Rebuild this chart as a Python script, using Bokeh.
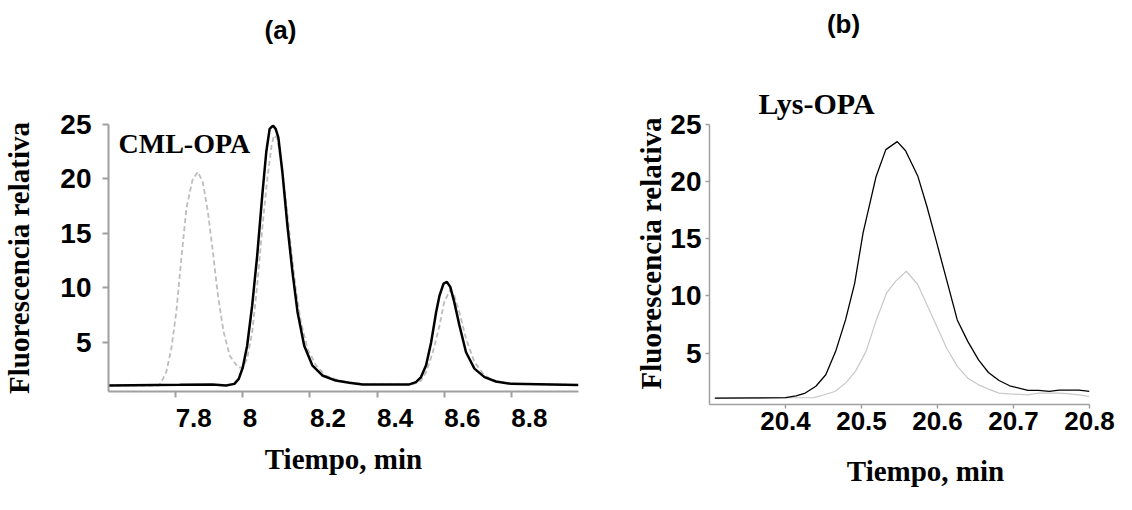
import math
from bokeh.plotting import figure
from bokeh.layouts import row
from bokeh.models import Range1d, FixedTicker, Label
from bokeh.embed import file_html
from bokeh.resources import INLINE

# ---------------- data: panel (a) CML-OPA ----------------
a_black_x = [7.6, 7.812, 7.91, 7.95, 7.975, 7.988, 8.0, 8.013, 8.028, 8.043, 8.058, 8.07,
             8.08, 8.09, 8.098, 8.106, 8.118, 8.133, 8.148, 8.163, 8.183, 8.207, 8.237,
             8.277, 8.317, 8.357, 8.496, 8.516, 8.531, 8.546, 8.561, 8.576, 8.586, 8.598,
             8.608, 8.618, 8.63, 8.645, 8.665, 8.69, 8.72, 8.754, 8.8, 9.0]
a_black_y = [1.05, 1.11, 1.15, 1.05, 1.2, 1.66, 2.7, 4.7, 8.4, 13.0, 18.5, 22.5,
             24.6, 24.9, 24.6, 23.8, 20.6, 15.7, 11.45, 7.8, 4.7, 2.9, 1.97,
             1.5, 1.3, 1.15, 1.15, 1.36, 1.82, 2.9, 5.0, 7.8, 9.3, 10.4,
             10.55, 10.1, 8.7, 6.6, 4.1, 2.6, 1.82, 1.42, 1.2, 1.1]

a_gray_x = [7.6, 7.75, 7.757, 7.772, 7.787, 7.802, 7.817, 7.832, 7.85, 7.866, 7.881, 7.896,
            7.911, 7.926, 7.943, 7.961, 7.986, 8.0, 8.013, 8.028, 8.043, 8.058, 8.073,
            8.086, 8.093, 8.103, 8.116, 8.128, 8.143, 8.158, 8.173, 8.193, 8.218, 8.247,
            8.287, 8.327, 8.366, 8.505, 8.531, 8.546, 8.566, 8.586, 8.6, 8.617, 8.63,
            8.645, 8.665, 8.69, 8.72, 8.754, 8.8, 9.0]
a_gray_y = [1.05, 1.05, 1.36, 2.27, 4.4, 7.8, 12.7, 17.3, 19.9, 20.65, 19.7, 17.0,
            13.3, 9.3, 5.95, 3.8, 2.7, 2.7, 3.5, 5.95, 10.25, 15.45, 20.0,
            23.1, 24.0, 23.7, 21.3, 18.2, 13.9, 9.9, 6.9, 4.4, 2.9, 1.97,
            1.5, 1.3, 1.15, 1.15, 1.5, 2.27, 4.1, 6.55, 8.7, 9.8, 9.3,
            7.8, 5.35, 3.2, 1.97, 1.42, 1.2, 1.1]

a_xticks = [7.8, 8.0, 8.2, 8.4, 8.6, 8.8]
a_xtick_labels = ["7.8", "8", "8.2", "8.4", "8.6", "8.8"]

# ---------------- data: panel (b) Lys-OPA ----------------
b_black_x = [20.307, 20.4, 20.414, 20.426, 20.44, 20.453, 20.466, 20.479, 20.491, 20.502,
             20.519, 20.532, 20.547, 20.558, 20.574, 20.586, 20.598, 20.612, 20.626, 20.64,
             20.654, 20.667, 20.681, 20.695, 20.719, 20.733, 20.747, 20.76, 20.774, 20.786, 20.8]
b_black_y = [1.06, 1.1, 1.25, 1.5, 2.1, 3.1, 5.15, 7.9, 11.1, 15.5,
             20.4, 22.8, 23.5, 22.7, 20.5, 17.85, 14.9, 11.4, 7.9, 6.0,
             4.4, 3.3, 2.6, 2.14, 1.73, 1.73, 1.64, 1.76, 1.76, 1.76, 1.64]

b_gray_x = [20.307, 20.437, 20.451, 20.465, 20.479, 20.492, 20.506, 20.519, 20.533, 20.545,
            20.559, 20.574, 20.586, 20.6, 20.612, 20.626, 20.64, 20.654, 20.667, 20.681,
            20.695, 20.719, 20.733, 20.747, 20.76, 20.774, 20.786, 20.8]
b_gray_y = [1.06, 1.1, 1.35, 1.64, 2.37, 3.4, 5.15, 7.8, 10.26, 11.3,
            12.16, 11.0, 9.24, 7.2, 5.44, 3.84, 2.8, 2.22, 1.85, 1.5,
            1.43, 1.35, 1.5, 1.5, 1.5, 1.43, 1.35, 1.2]

b_xticks = [20.4, 20.5, 20.6, 20.7, 20.8]
b_xtick_labels = ["20.4", "20.5", "20.6", "20.7", "20.8"]

y_ticks = [5, 10, 15, 20, 25]
y_tick_labels = ["5", "10", "15", "20", "25"]

panel_titles = ["(a)", "(b)"]
compound_labels = ["CML-OPA", "Lys-OPA"]
x_title = "Tiempo, min"
y_title = "Fluorescencia relativa"

AXIS_GRAY = "#a0a0a0"
SANS = "Liberation Sans"
SERIF = "Liberation Serif"


def style(p, xticks, xlabels, axis_w, tick_out, xstand, ystand):
    p.xgrid.visible = False
    p.ygrid.visible = False
    p.outline_line_color = None
    p.background_fill_color = "white"
    p.border_fill_color = "white"
    p.xaxis.ticker = FixedTicker(ticks=xticks)
    p.xaxis.major_label_overrides = {t: l for t, l in zip(xticks, xlabels)}
    p.yaxis.ticker = FixedTicker(ticks=y_ticks)
    p.yaxis.major_label_overrides = {t: l for t, l in zip(y_ticks, y_tick_labels)}
    for ax in (p.xaxis[0], p.yaxis[0]):
        ax.axis_line_color = AXIS_GRAY
        ax.axis_line_width = axis_w
        ax.major_tick_line_color = AXIS_GRAY
        ax.major_tick_line_width = axis_w
        ax.major_tick_out = tick_out
        ax.major_tick_in = 0
        ax.minor_tick_line_color = None
        ax.major_label_text_font = SANS
        ax.major_label_text_font_style = "bold"
        ax.major_label_text_color = "black"
        ax.axis_label_text_font = SERIF
        ax.axis_label_text_font_style = "bold"
        ax.axis_label_text_font_size = "29px"
        ax.axis_label_text_color = "black"
    p.xaxis.major_label_text_font_size = "26px"
    p.yaxis.major_label_text_font_size = "28px"
    p.xaxis.major_label_standoff = xstand
    p.yaxis.major_label_standoff = ystand


def text_label(x, y, dx, dy, text, font, size, align, baseline, angle=0.0):
    return Label(x=x, y=y, x_offset=dx, y_offset=dy, text=text, angle=angle,
                 text_font=font, text_font_style="bold", text_font_size=size,
                 text_align=align, text_baseline=baseline, text_color="black")


# ---------------- panel (a) ----------------
pa = figure(frame_width=470, frame_height=267,
            min_border_left=108, min_border_right=42,
            min_border_top=118, min_border_bottom=109,
            x_range=Range1d(7.6, 9.0), y_range=Range1d(0.5, 25),
            output_backend="svg", toolbar_location=None)
style(pa, a_xticks, a_xtick_labels, 2, 6, 20, 11)
pa.xaxis.axis_label = x_title
pa.yaxis.axis_label = y_title
pa.xaxis.axis_label_standoff = 4
pa.yaxis.axis_label_standoff = 22
# tick labels of panel (a) start at their tick (left aligned), as in the original
pa.xaxis.major_label_orientation = -0.0001
pa.line(a_gray_x, a_gray_y, line_color="#bdbdbd", line_width=1.8, line_dash="5 3")
pa.line(a_black_x, a_black_y, line_color="black", line_width=2.5)
pa.add_layout(text_label(7.6, 25, 10, -19, compound_labels[0], SERIF, "28px", "left", "alphabetic"))
pa.add_layout(text_label(7.6, 25, 172, 95, panel_titles[0], SANS, "26px", "center", "middle"), "above")

# ---------------- panel (b) ----------------
pb = figure(frame_width=380, frame_height=280,
            min_border_left=89, min_border_right=27,
            min_border_top=124, min_border_bottom=90,
            x_range=Range1d(20.3, 20.8), y_range=Range1d(0.5, 25),
            output_backend="svg", toolbar_location=None)
style(pb, b_xticks, b_xtick_labels, 1.5, 4, 3, 4)
pb.line(b_gray_x, b_gray_y, line_color="#c8c8c8", line_width=1.2)
pb.line(b_black_x, b_black_y, line_color="black", line_width=1.3)
pb.add_layout(text_label(20.3, 25, 49, 21, compound_labels[1], SERIF, "30px", "left", "alphabetic"), "above")
pb.add_layout(text_label(20.3, 25, 134, 101, panel_titles[1], SANS, "26px", "center", "middle"), "above")
# axis titles of panel (b) sit off-centre in the original
pb.add_layout(text_label(20.3, 0.5, 216, -66, x_title, SERIF, "29px", "center", "alphabetic"), "above")
pb.add_layout(text_label(20.3, 25, -59, -129, y_title, SERIF, "29px", "center", "alphabetic",
                         angle=math.pi / 2), "left")

layout = row(pa, pb, spacing=0)
open("out.html", "w").write(file_html(layout, INLINE))
